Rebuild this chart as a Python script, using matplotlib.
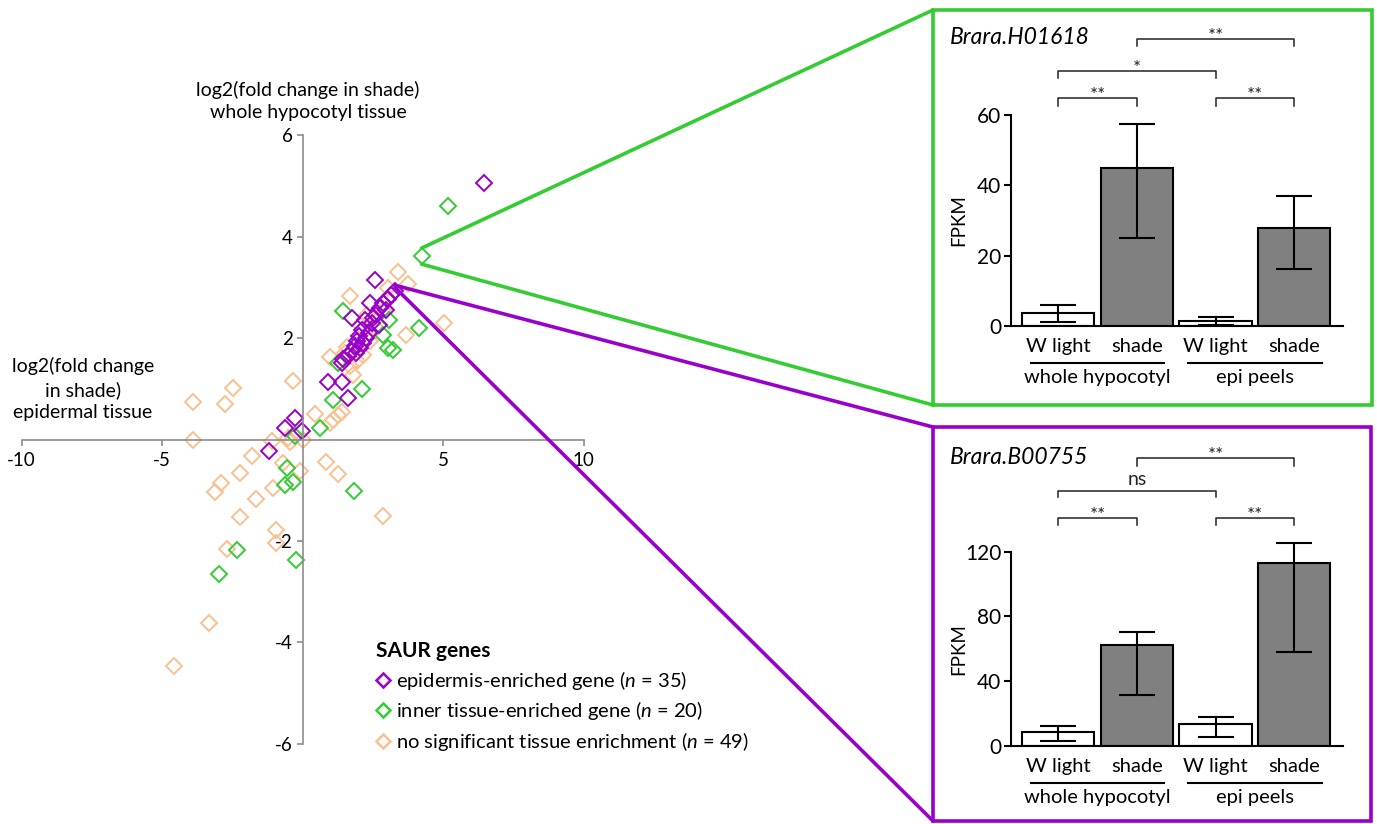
import matplotlib
matplotlib.use("Agg")
import matplotlib.pyplot as plt
import matplotlib.transforms as mtransforms
from matplotlib.patches import Rectangle, ConnectionPatch
from matplotlib.lines import Line2D
import numpy as np

plt.rcParams['font.family'] = ['Lato', 'DejaVu Sans']
plt.rcParams['mathtext.fontset'] = 'custom'
plt.rcParams['mathtext.rm'] = 'Lato'
plt.rcParams['mathtext.it'] = 'Lato:italic'
plt.rcParams['mathtext.bf'] = 'Lato:bold'
plt.rcParams['axes.unicode_minus'] = False

# ---- scatter: log2 fold change in shade (x: epidermal, y: whole hypocotyl) ----
epi_x = [6.45, 2.57, 3.28, 3.05, 2.85, 2.40, 2.75, 2.95, 2.60, 1.74, 2.20, 2.45,
         2.70, 2.10, 2.35, 2.00, 2.25, 1.95, 2.15, 1.85, 2.05, 1.75, 1.90, 1.60,
         1.45, 1.39, 0.91, 1.39, 1.60, -0.27, -0.63, -0.04, -1.19, 3.15, 2.50]
epi_y = [5.05, 3.15, 2.92, 2.78, 2.70, 2.69, 2.60, 2.55, 2.45, 2.40, 2.35, 2.30,
         2.25, 2.15, 2.10, 2.05, 2.00, 1.95, 1.90, 1.85, 1.80, 1.75, 1.70, 1.65,
         1.58, 1.50, 1.14, 1.14, 0.81, 0.43, 0.22, 0.17, -0.22, 2.85, 2.40]

inner_x = [5.16, 4.23, 4.14, 1.45, 3.22, 3.02, 2.87, 3.08, 2.10, 1.09,
           0.60, -0.28, -0.57, -0.63, -0.33, 1.83, -2.33, -2.97, -0.24, 1.27]
inner_y = [4.61, 3.61, 2.19, 2.54, 1.77, 1.80, 2.06, 2.36, 0.99, 0.78,
           0.23, 0.06, -0.57, -0.90, -0.83, -1.01, -2.18, -2.65, -2.38, 1.50]

ns_x = [3.38, 3.74, 3.03, 1.68, 5.02, 3.68, 2.28, 0.96, 1.57, 1.80, 2.16, -0.36,
        -2.49, -2.75, -3.89, -3.89, 0.42, 1.09, 1.27, 1.39, 0.97, -1.10, -1.79,
        0.84, -0.51, -0.69, -0.08, -2.23, -2.92, -3.12, -1.66, -1.05, -2.23,
        -0.95, -0.95, -2.70, -3.32, -4.58, 1.27, 2.87, -0.45, 2.60, 2.40, 1.95,
        1.70, 2.85, 1.50, 2.05, 0.00]
ns_y = [3.30, 3.07, 2.99, 2.83, 2.29, 2.07, 2.46, 1.62, 1.82, 1.27, 1.67, 1.16,
        1.01, 0.71, 0.73, -0.01, 0.50, 0.38, 0.48, 0.55, 0.33, -0.02, -0.33,
        -0.44, 0.02, -0.47, -0.62, -0.67, -0.86, -1.03, -1.18, -0.96, -1.52,
        -1.78, -2.05, -2.15, -3.61, -4.46, -0.68, -1.51, -0.04, 2.20, 1.95, 1.55,
        1.45, 2.55, 1.70, 2.25, 0.00]

x_ticks = [-10, -5, 5, 10]
y_ticks = [-6, -4, -2, 2, 4, 6]

legend_labels = ['epidermis-enriched gene ($\\mathit{n}$ = 35)',
                 'inner tissue-enriched gene ($\\mathit{n}$ = 20)',
                 'no significant tissue enrichment ($\\mathit{n}$ = 49)']

# genes shown in the bar panels (index into the series above)
h01618_idx = 1   # inner tissue-enriched
b00755_idx = 2   # epidermis-enriched

# ---- bar panels: FPKM ----
conditions = ['W light', 'shade', 'W light', 'shade']
tissues = ['whole hypocotyl', 'epi peels']

h01618_mean = [3.6, 45.0, 1.5, 28.0]
h01618_err_lo = [2.4, 20.0, 1.2, 11.9]
h01618_err_hi = [2.4, 12.5, 1.15, 9.0]
h01618_sig = [(0, 1, '**'), (0, 2, '*'), (1, 3, '**'), (2, 3, '**')]

b00755_mean = [8.7, 62.1, 13.2, 113.0]
b00755_err_lo = [5.6, 31.0, 7.6, 54.9]
b00755_err_hi = [3.7, 8.4, 4.5, 12.2]
b00755_sig = [(0, 1, '**'), (0, 2, 'ns'), (1, 3, '**'), (2, 3, '**')]

PURPLE = '#9900CC'
GREEN = '#33CC33'
PEACH = '#FAC090'
AXGRAY = '#8C8C8C'

W, H = 1377, 824
fig = plt.figure(figsize=(W / 100, H / 100), dpi=100)


def fx(px):
    return px / W


def fy(py):
    return 1 - py / H


# ---------------- scatter ----------------
ax = fig.add_axes([fx(21.7), fy(743.7), (583.7 - 21.7) / W, (743.7 - 135.3) / H])
ax.patch.set_alpha(0)
ax.set_xlim(-10, 10)
ax.set_ylim(-6, 6)
for side in ('top', 'right'):
    ax.spines[side].set_visible(False)
for side in ('left', 'bottom'):
    ax.spines[side].set_position(('data', 0))
    ax.spines[side].set_color(AXGRAY)
    ax.spines[side].set_linewidth(1.2)
ax.set_xticks(x_ticks)
ax.set_yticks(y_ticks)
ax.tick_params(axis='both', direction='out', length=4, width=1.2, color=AXGRAY,
               labelsize=13.5, labelcolor='black')
ax.tick_params(axis='x', pad=5)
ax.tick_params(axis='y', pad=3)

mk = dict(ls='none', marker='D', ms=7.8, mfc='none', mew=1.4, clip_on=False)
ax.plot(ns_x, ns_y, mec=PEACH, **mk)
ax.plot(inner_x, inner_y, mec=GREEN, **mk)
ax.plot(epi_x, epi_y, mec=PURPLE, **mk)

fig.text(fx(308), fy(101), 'log2(fold change in shade)\nwhole hypocotyl tissue',
         ha='center', va='center', fontsize=14, linespacing=1.4)
fig.text(fx(83), fy(389), 'log2(fold change\nin shade)\nepidermal tissue',
         ha='center', va='center', fontsize=14, linespacing=1.4)

handles = [Line2D([], [], ls='none', marker='D', ms=7.2, mfc='none', mew=1.8, mec=c)
           for c in (PURPLE, GREEN, PEACH)]
leg = ax.legend(handles, legend_labels, title='SAUR genes', loc='upper left',
                bbox_to_anchor=(fx(376), fy(641)), bbox_transform=fig.transFigure,
                frameon=False, alignment='left', fontsize=14.5, handlelength=0.7,
                handletextpad=0.3, labelspacing=0.38, borderpad=0, borderaxespad=0,
                title_fontproperties={'weight': 'bold', 'size': 15})


# ---------------- bar panels ----------------
def bar_panel(rect, means, err_lo, err_hi, ymax, yticks, sig, sig_levels, gene, gene_y):
    bx = fig.add_axes(rect)
    bx.patch.set_alpha(0)
    pos = np.arange(len(means))
    bx.bar(pos, means, width=0.92, color=['white', '#808080', 'white', '#808080'],
           edgecolor='black', linewidth=1.5, zorder=2)
    eb = bx.errorbar(pos, means, yerr=[err_lo, err_hi], fmt='none', ecolor='black',
                     elinewidth=1.5, capsize=13, capthick=1.5, zorder=3)
    for part in eb.lines:
        if part is None:
            continue
        for art in (part if isinstance(part, tuple) else (part,)):
            art.set_clip_on(False)
    bx.set_xlim(-0.6, 3.62)
    bx.set_ylim(0, ymax)
    for side in ('top', 'right'):
        bx.spines[side].set_visible(False)
    for side in ('left', 'bottom'):
        bx.spines[side].set_linewidth(1.5)
    bx.set_yticks(yticks)
    bx.tick_params(axis='y', length=5, width=1.5, labelsize=15, pad=2)
    bx.set_xticks(pos, labels=conditions)
    bx.tick_params(axis='x', length=0, labelsize=14.5, pad=9)
    bx.set_ylabel('FPKM', fontsize=13.5)
    bx.yaxis.set_label_coords(-0.133, 0.5)

    below = lambda d: mtransforms.blended_transform_factory(bx.transData, bx.transAxes) + \
        mtransforms.ScaledTranslation(0, -d / 100, fig.dpi_scale_trans)
    for g, name in enumerate(tissues):
        c = 2 * g + 0.5
        bx.plot([c - 0.85, c + 0.85], [0, 0], color='black', lw=1.5,
                transform=below(37), clip_on=False)
        bx.text(c, 0, name, ha='center', va='center', fontsize=14.5, transform=below(52))

    for (i, j, lab), (yb, yt) in zip(sig, sig_levels):
        bx.plot([i, i, j, j], [yt, yb, yb, yt], color='#222222', lw=1.1, clip_on=False)
        if lab == 'ns':
            bx.annotate(lab, xy=((i + j) / 2, yb), xytext=(0, 4.5),
                        textcoords='offset points', ha='center', va='baseline',
                        fontsize=14, color='#222222', annotation_clip=False)
        else:
            bx.annotate(lab, xy=((i + j) / 2, yb), xytext=(0, -2),
                        textcoords='offset points', ha='center', va='baseline',
                        fontsize=13.5, color='#222222', annotation_clip=False)

    fig.text(fx(950), gene_y, gene, style='italic', fontsize=16.5, ha='left', va='center')
    return bx


bar_panel([fx(1011), fy(326), (1343 - 1011) / W, (326 - 115) / H],
          h01618_mean, h01618_err_lo, h01618_err_hi, 60, [0, 20, 40, 60],
          h01618_sig, [(64.75, 62.6), (72.5, 70.6), (81.6, 79.5), (64.75, 62.6)],
          'Brara.H01618', fy(37))

bar_panel([fx(1011), fy(745.7), (1343 - 1011) / W, (745.7 - 551.7) / H],
          b00755_mean, b00755_err_lo, b00755_err_hi, 120, [0, 40, 80, 120],
          b00755_sig, [(140.7, 136.5), (157.5, 153.6), (177.8, 173.2), (140.7, 136.5)],
          'Brara.B00755', fy(457))

# ---------------- frames and zoom connectors ----------------
green_box = (933, 10, 1371.5, 405)
purple_box = (933, 427, 1371, 821)
for (x0, y0, x1, y1), col in ((green_box, GREEN), (purple_box, PURPLE)):
    fig.add_artist(Rectangle((fx(x0), fy(y1)), (x1 - x0) / W, (y1 - y0) / H,
                             transform=fig.transFigure, fill=False, ec=col, lw=2.6))


def connector(px, py, dy_pts, corner, col):
    src = mtransforms.offset_copy(ax.transData, fig=fig, y=dy_pts, units='points')
    con = ConnectionPatch(xyA=(px, py), coordsA=src,
                          xyB=(fx(corner[0]), fy(corner[1])), coordsB=fig.transFigure,
                          color=col, lw=2.6)
    fig.add_artist(con)


gx, gy = inner_x[h01618_idx], inner_y[h01618_idx]
connector(gx, gy, 6, (green_box[0], green_box[1]), GREEN)
connector(gx, gy, -5.5, (green_box[0], green_box[3]), GREEN)
px_, py_ = epi_x[b00755_idx], epi_y[b00755_idx]
connector(px_, py_, 4.5, (purple_box[0], purple_box[1]), PURPLE)
connector(px_, py_, 3.0, (purple_box[0], purple_box[3]), PURPLE)

fig.savefig('out.png', dpi=100)
